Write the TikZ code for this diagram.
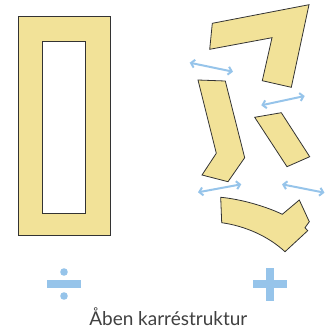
\documentclass[tikz,border=0pt]{standalone}
\usepackage{fontspec}
\setmainfont{Lato}
\usetikzlibrary{arrows.meta, positioning}

\definecolor{piecefill}{RGB}{242,226,152}
\definecolor{arrowblue}{RGB}{150,196,234}

\begin{document}
\begin{tikzpicture}[x=1pt, y=-1pt, >={Straight Barb[length=3.5pt, width=8pt]},
    piece/.style={draw=black!80, fill=piecefill, line width=0.8pt, line join=miter},
    gaparrow/.style={<->, arrowblue, line width=2pt},
    sign/.style={fill=arrowblue, draw=none}]
  \useasboundingbox (0,0) rectangle (326,330);

  % closed frame
  \path[piece, even odd rule] (18,16) rectangle (110,235)
    (42.7,41.3) rectangle (85.3,213.7);

  % loose pieces
  \path[piece] (212.3,23.3) -- (309,4.7) -- (291.3,87.3) -- (262.3,80.7)
    -- (272,37.7) -- (209.7,49.3) -- cycle;
  \path[piece] (198,80) -- (225.3,81) -- (244.7,157.7) -- (228,181.7)
    -- (202,175) -- (216.3,153.3) -- cycle;
  \path[piece] (254.7,117.3) -- (281.3,112.7) -- (309.7,156.7) -- (287,166.7) -- cycle;
  \path[piece] (220.7,197.3) .. controls (240,199) and (265,206) .. (282.3,214.3)
    -- (299.3,200) -- (309.3,221.7) -- (305,227.7) -- (307.7,230.7) -- (285,251.7)
    .. controls (268,236) and (245,226) .. (221.7,222.7) -- cycle;

  % arrows between the pieces
  \coordinate (a1) at (189.7,62.7);  \coordinate (b1) at (233,71.7);
  \coordinate (a2) at (261.3,105.3); \coordinate (b2) at (304.7,96);
  \coordinate (a3) at (198,192.3);   \coordinate (b3) at (241.3,184.3);
  \coordinate (a4) at (282,184.3);   \coordinate (b4) at (324.5,192.7);
  \foreach \i in {1,...,4}
    \draw[gaparrow] (a\i) -- (b\i);

  % minus / plus
  \fill[sign] (47.3,280) rectangle (81,287.7);
  \fill[sign] (64,272) circle (3.8);
  \fill[sign] (64,296) circle (3.8);
  \fill[sign] (253.3,280) rectangle (286.7,287.7);
  \fill[sign] (265.7,268) rectangle (274.3,301);

  \node[font=\fontsize{19}{22}\selectfont, text=black!75, anchor=base] (caption)
    at (168.3,325) {Åben karréstruktur};
\end{tikzpicture}
\end{document}
